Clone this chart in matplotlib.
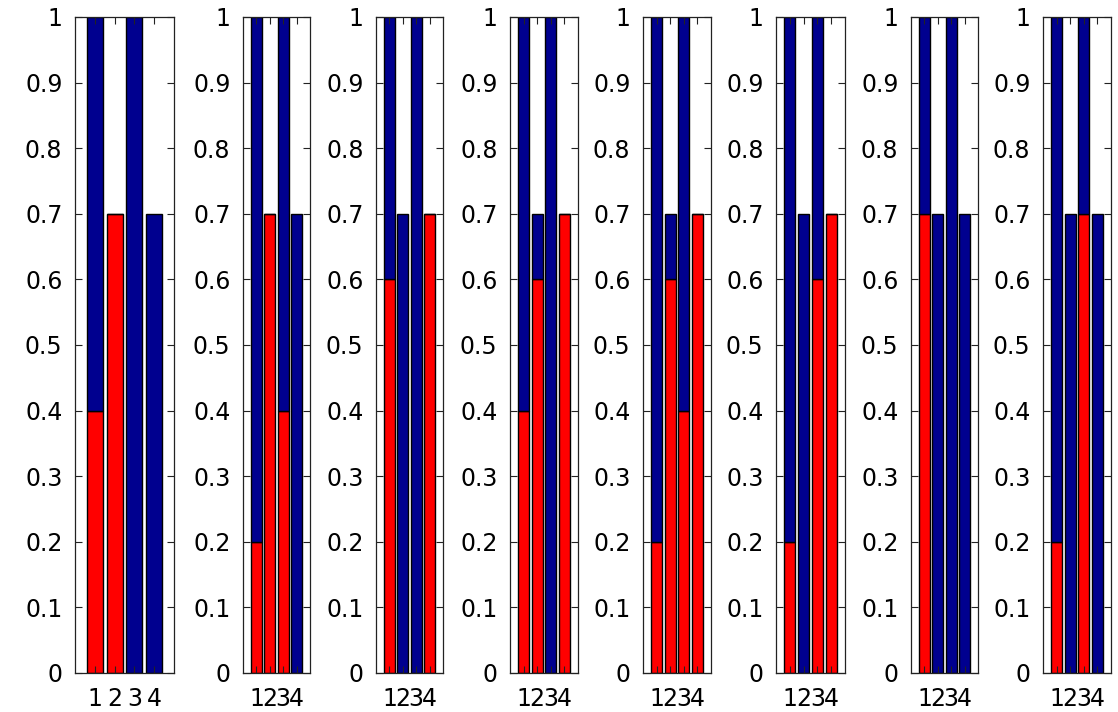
import numpy as np
import matplotlib.pyplot as plt

# bar positions and the stacked values of each of the 8 panels
positions = [1, 2, 3, 4]
totals = [1.0, 0.7, 1.0, 0.7]
red_parts = [
    [0.4, 0.7, 0.0, 0.0],
    [0.2, 0.7, 0.4, 0.0],
    [0.6, 0.0, 0.0, 0.7],
    [0.4, 0.6, 0.0, 0.7],
    [0.2, 0.6, 0.4, 0.7],
    [0.2, 0.0, 0.6, 0.7],
    [0.7, 0.0, 0.0, 0.0],
    [0.2, 0.0, 0.7, 0.0],
]
y_ticks = [0, 0.1, 0.2, 0.3, 0.4, 0.5, 0.6, 0.7, 0.8, 0.9, 1]

RED = '#ff0000'
BLUE = '#00008f'

W, H = 1118, 712
# panel edges in pixels (left, right); all share top/bottom
lefts = [75, 243, 376, 510, 643, 776, 911, 1043]
rights = [174, 310, 443, 578, 711, 845, 978, 1111]
top, bottom = 17, 673

plt.rcParams['font.family'] = ['DejaVu Sans']

fig = plt.figure(figsize=(W / 100, H / 100), dpi=100)
fig.patch.set_facecolor('white')

for i in range(len(red_parts)):
    l, r = lefts[i], rights[i]
    ax = fig.add_axes([l / W, 1 - bottom / H, (r - l) / W, (bottom - top) / H])
    red = np.array(red_parts[i])
    blue = np.array(totals) - red
    ax.bar(positions, red, width=0.8, color=RED, edgecolor='black', linewidth=1.0)
    ax.bar(positions, blue, width=0.8, bottom=red, color=BLUE,
           edgecolor='black', linewidth=1.0)
    ax.set_xlim(0, 5)
    ax.set_ylim(0, 1)
    ax.set_xticks(positions)
    ax.set_xticklabels([str(p) for p in positions])
    ax.set_yticks(y_ticks)
    ax.set_yticklabels(['%g' % t for t in y_ticks])
    ax.tick_params(direction='in', length=5, width=0.8, top=True, right=True,
                   labelsize=17, color='#222222')
    ax.tick_params(axis='y', pad=9)
    ax.tick_params(axis='x', pad=10)
    for s in ax.spines.values():
        s.set_linewidth(0.9)
        s.set_color('#222222')

fig.savefig('out.png', dpi=100, facecolor='white')
